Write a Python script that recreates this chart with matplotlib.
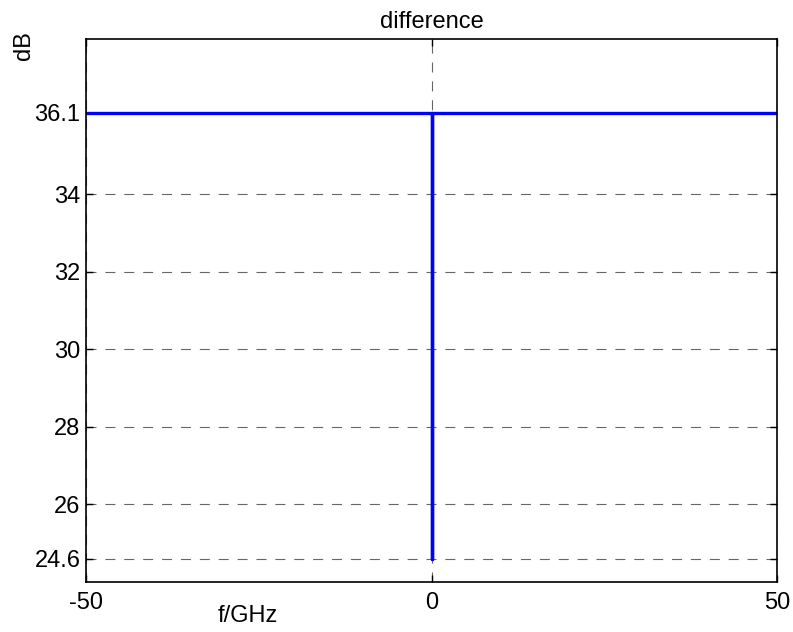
import matplotlib.pyplot as plt

plt.rcParams['font.family'] = ['Liberation Sans', 'DejaVu Sans']

# spectrum difference: flat at 36.1 dB with a single dip at 0 GHz
freq = [-50, 0, 0, 0, 50]
diff_db = [36.1, 36.1, 24.6, 36.1, 36.1]

yticks = [24.6, 26, 28, 30, 32, 34, 36.1]
xticks = [-50, 0, 50]

fig = plt.figure(figsize=(7.93, 6.32), dpi=100)
ax = fig.add_axes([0.1085, 0.0791, 0.8713, 0.8592])

ax.plot(freq, diff_db, color='#0000ff', linewidth=2.4)

ax.set_xlim(-50, 50)
ax.set_ylim(24, 38)
ax.set_xticks(xticks)
ax.set_xticklabels(['-50', '0', '50'])
ax.set_yticks(yticks)
ax.set_yticklabels(['24.6', '26', '28', '30', '32', '34', '36.1'])

ax.grid(True, linestyle=(0, (9, 8)), color='#666666', linewidth=0.8)
ax.tick_params(direction='in', top=True, right=True, labelsize=17, length=5, width=1)
ax.tick_params(axis='x', pad=7)
ax.tick_params(axis='y', pad=4)
for s in ax.spines.values():
    s.set_linewidth(1.2)

ax.set_title('difference', fontsize=17, pad=8)
fig.text(24 / 793, 1 - 46 / 632, 'dB', rotation=90, fontsize=17, ha='center', va='center')
fig.text(248 / 793, 1 - 616 / 632, 'f/GHz', fontsize=17, ha='center', va='center')

fig.savefig('out.png', dpi=100)
